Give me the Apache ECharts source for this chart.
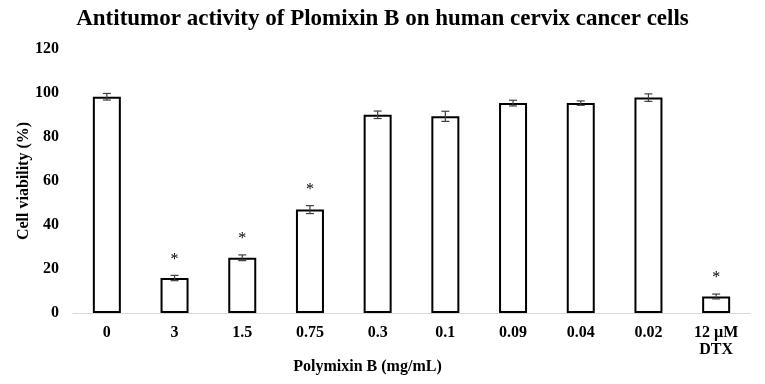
<!DOCTYPE html>
<html>
<head>
<meta charset="utf-8">
<script src="https://cdn.jsdelivr.net/npm/echarts@6/dist/echarts.min.js"></script>
<style>
html,body{margin:0;padding:0;background:#fff;}
#chart{width:765px;height:384px;}
</style>
</head>
<body>
<div id="chart"></div>
<script>
// 数据
var categories = ['0', '3', '1.5', '0.75', '0.3', '0.1', '0.09', '0.04', '0.02', '12 \u00b5M\nDTX'];
var viability = [98.3, 15.9, 25.1, 47.0, 90.1, 89.4, 95.4, 95.4, 97.9, 7.5];
var errors = [1.5, 1.2, 1.3, 1.8, 1.7, 2.3, 1.3, 1.0, 1.7, 1.1];
var significant = [false, true, true, true, false, false, false, false, false, true];
var yTicks = [0, 20, 40, 60, 80, 100, 120];

var serif = '"Liberation Serif", "DejaVu Serif", serif';
var chart = echarts.init(document.getElementById('chart'));

var errData = viability.map(function(v, i) {
	return [i, v - errors[i], v + errors[i], significant[i] ? 1 : 0];
});

var option = {
	animation: false,
	title: {
		text: 'Antitumor activity of Plomixin B on human cervix cancer cells',
		left: 'center',
		top: 3,
		textStyle: { fontFamily: serif, fontWeight: 'bold', fontSize: 23, color: '#000' }
	},
	grid: { left: 73, right: 15, top: 49, bottom: 71 },
	xAxis: {
		type: 'category',
		data: categories,
		name: 'Polymixin B (mg/mL)',
		nameLocation: 'middle',
		nameGap: 46,
		nameMoveOverlap: false,
		nameTextStyle: { fontFamily: serif, fontWeight: 'bold', fontSize: 16, color: '#000', padding: [0, 88, 0, 0] },
		axisLine: { lineStyle: { color: '#d9d9d9', width: 1 } },
		axisTick: { show: false },
		axisLabel: {
			interval: 0, margin: 11, lineHeight: 17,
			fontFamily: serif, fontWeight: 'bold', fontSize: 16, color: '#000'
		}
	},
	yAxis: {
		type: 'value',
		min: yTicks[0],
		max: yTicks[yTicks.length - 1],
		interval: 20,
		name: 'Cell viability (%)',
		nameLocation: 'middle',
		nameGap: 41,
		nameMoveOverlap: false,
		nameRotate: 90,
		nameTextStyle: { fontFamily: serif, fontWeight: 'bold', fontSize: 16, color: '#000' },
		axisLine: { show: false },
		axisTick: { show: false },
		splitLine: { show: false },
		axisLabel: { margin: 14, fontFamily: serif, fontWeight: 'bold', fontSize: 16, color: '#000' }
	},
	series: [
		{
			type: 'bar',
			data: viability,
			barWidth: 28,
			itemStyle: { color: '#fff', borderColor: '#000', borderWidth: 2 }
		},
		{
			type: 'custom',
			data: errData,
			z: 10,
			renderItem: function(params, api) {
				var x = api.value(0);
				var lo = api.coord([x, api.value(1)]);
				var hi = api.coord([x, api.value(2)]);
				var hw = 4;
				var style = { stroke: '#404040', lineWidth: 1.2 };
				var kids = [
					{ type: 'line', shape: { x1: lo[0], y1: lo[1], x2: hi[0], y2: hi[1] }, style: style },
					{ type: 'line', shape: { x1: lo[0] - hw, y1: lo[1], x2: lo[0] + hw, y2: lo[1] }, style: style },
					{ type: 'line', shape: { x1: hi[0] - hw, y1: hi[1], x2: hi[0] + hw, y2: hi[1] }, style: style }
				];
				if (api.value(3)) {
					kids.push({
						type: 'text',
						style: {
							text: '*', x: hi[0], y: hi[1] - 8,
							align: 'center', verticalAlign: 'bottom',
							font: '16px ' + serif, fill: '#000'
						}
					});
				}
				return { type: 'group', children: kids };
			}
		}
	]
};
chart.setOption(option);
</script>
</body>
</html>
